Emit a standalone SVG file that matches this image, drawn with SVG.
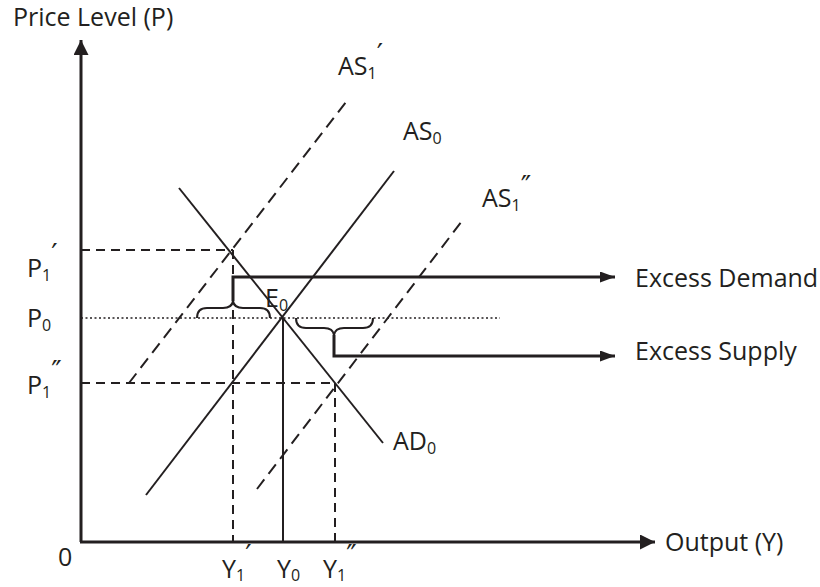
<svg xmlns="http://www.w3.org/2000/svg" width="820" height="587" viewBox="0 0 820 587">
<style>
  text { font-family: "Open Sans", "Noto Sans", "DejaVu Sans", sans-serif; font-size: 25px; fill: #231f20; }
  .sub { font-size: 16px; }
  .pr { font-size: 28px; font-family: "DejaVu Sans", sans-serif; }
  .axis { stroke: #231f20; stroke-width: 3; fill: none; }
  .curve { stroke: #231f20; stroke-width: 2; fill: none; }
  .dash { stroke: #231f20; stroke-width: 2; fill: none; stroke-dasharray: 9 6; }
  .ddash { stroke: #231f20; stroke-width: 2; fill: none; stroke-dasharray: 12 7; }
  .dot { stroke: #231f20; stroke-width: 1.5; fill: none; stroke-dasharray: 2 2.5; }
  .conn { stroke: #231f20; stroke-width: 3; fill: none; }
  .brace { stroke: #231f20; stroke-width: 2; fill: none; }
</style>
<defs>
  <marker id="arrowBig" viewBox="0 0 15 15" refX="15" refY="7.5" markerWidth="15" markerHeight="15" markerUnits="userSpaceOnUse" orient="auto">
    <path d="M0,0 L15,7.5 L0,15 Z" fill="#231f20"/>
  </marker>
  <marker id="arrowSmall" viewBox="0 0 15 11" refX="15" refY="5.5" markerWidth="15" markerHeight="11" markerUnits="userSpaceOnUse" orient="auto">
    <path d="M0,0 L15,5.5 L0,11 Z" fill="#231f20"/>
  </marker>
</defs>
<rect width="820" height="587" fill="#ffffff"/>

<g id="axes">
  <line class="axis" x1="81" y1="542" x2="81" y2="40" marker-end="url(#arrowBig)"/>
  <line class="axis" x1="80" y1="542" x2="655" y2="542" marker-end="url(#arrowBig)"/>
  <text x="13" y="26">Price Level (P)</text>
  <text x="665" y="551">Output (Y)</text>
  <text x="58" y="566">0</text>
</g>

<g id="guides">
  <line class="dash" x1="81" y1="250" x2="233" y2="250"/>
  <line class="dash" x1="81" y1="383" x2="336" y2="383"/>
  <line class="dash" x1="233" y1="250" x2="233" y2="542"/>
  <line class="dash" x1="335" y1="383" x2="335" y2="542"/>
  <line class="curve" x1="283" y1="318" x2="283" y2="542"/>
  <line class="dot" x1="81" y1="318" x2="500" y2="318"/>
</g>

<g id="AD0">
  <line class="curve" x1="179" y1="188" x2="383" y2="443"/>
  <text x="393" y="450">AD<tspan class="sub" dy="4">0</tspan></text>
</g>
<g id="AS0">
  <line class="curve" x1="146" y1="495" x2="394" y2="171"/>
  <text x="403" y="140">AS<tspan class="sub" dy="4">0</tspan></text>
</g>
<g id="AS1p">
  <line class="ddash" x1="129" y1="383" x2="346" y2="102"/>
  <text x="338" y="75">AS<tspan class="sub" dy="4">1</tspan><tspan class="pr" dy="-15">′</tspan></text>
</g>
<g id="AS1pp">
  <line class="ddash" x1="257" y1="489" x2="462" y2="221"/>
  <text x="482" y="207">AS<tspan class="sub" dy="4">1</tspan><tspan class="pr" dy="-15">″</tspan></text>
</g>
<g id="E0">
  <text x="265" y="307">E<tspan class="sub" dy="4">0</tspan></text>
</g>

<g id="priceLabels">
  <text x="27" y="277">P<tspan class="sub" dy="4">1</tspan><tspan class="pr" dy="-17">′</tspan></text>
  <text x="27" y="327">P<tspan class="sub" dy="4">0</tspan></text>
  <text x="27" y="394">P<tspan class="sub" dy="4">1</tspan><tspan class="pr" dy="-17">″</tspan></text>
</g>
<g id="outputLabels">
  <text x="222" y="578">Y<tspan class="sub" dy="3">1</tspan><tspan class="pr" dy="-16">′</tspan></text>
  <text x="277" y="578">Y<tspan class="sub" dy="3">0</tspan></text>
  <text x="323" y="578">Y<tspan class="sub" dy="3">1</tspan><tspan class="pr" dy="-16">″</tspan></text>
</g>

<g id="excessDemand">
  <path class="brace" d="M197,318 Q197,308 207,308 L223,308 Q232,308 233,301 Q234,308 243,308 L260,308 Q270,308 270,318"/>
  <text x="635" y="287">Excess Demand</text>
</g>
<g id="excessSupply">
  <path class="brace" d="M296,318 Q296,328 306,328 L324,328 Q333,328 334,335 Q335,328 344,328 L363,328 Q373,328 373,318"/>
  <text x="635" y="360">Excess Supply</text>
</g>

<g id="connectors">
  <polyline class="conn" points="233,301 233,277 615,277" marker-end="url(#arrowSmall)"/>
  <polyline class="conn" points="334,335 334,356 615,356" marker-end="url(#arrowSmall)"/>
</g>
</svg>
